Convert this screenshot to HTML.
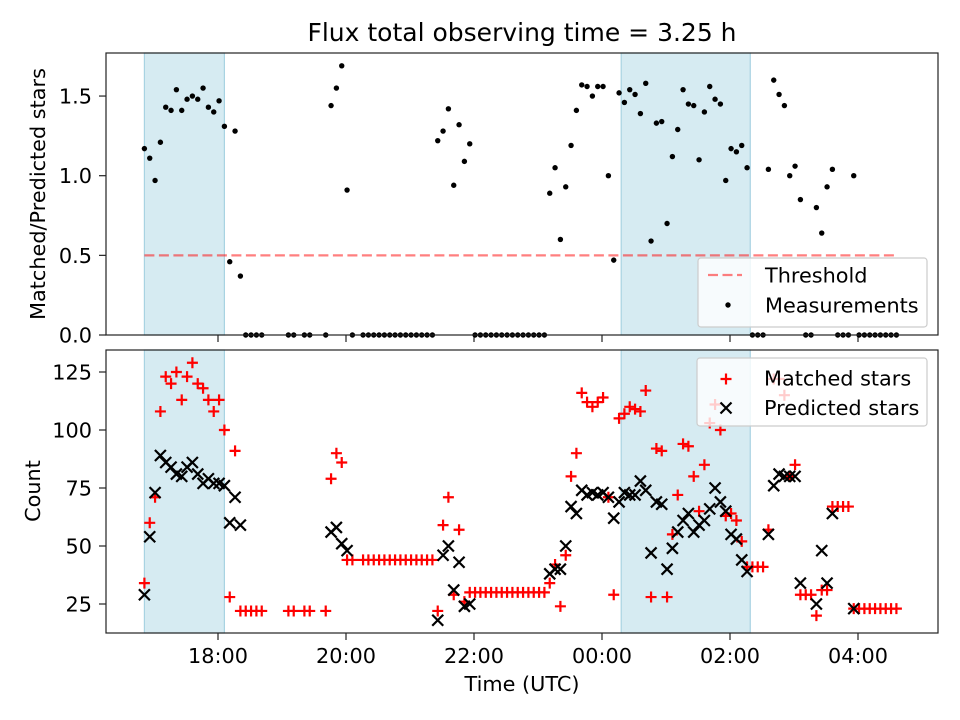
<!DOCTYPE html>
<html><head><meta charset="utf-8"><style>
html,body{margin:0;padding:0;background:#fff;}
svg{display:block;font-family:"DejaVu Sans","Liberation Sans",sans-serif;}
</style></head><body>
<svg id="chart" width="960" height="720" viewBox="0 0 960 720" xmlns="http://www.w3.org/2000/svg">
<rect width="960" height="720" fill="#fff"/>
<text x="522" y="41" font-size="25" text-anchor="middle">Flux total observing time = 3.25 h</text>
<g id="topPanel"></g><g id="botPanel"></g>
<text transform="translate(45,194) rotate(-90)" font-size="20.8" text-anchor="middle">Matched/Predicted stars</text>
<text transform="translate(40,491) rotate(-90)" font-size="20.8" text-anchor="middle">Count</text>
<text x="522" y="691" font-size="20.8" text-anchor="middle">Time (UTC)</text>
</svg>
<script>
// minutes since 00:00 of first day
const times = [1011,1016,1021,1026,1031,1036,1041,1046,1051,1056,1061,1066,1071,1076,1081,1086,1091,1096,1101,
1106,1111,1116,1121,
1146,1151,1161,1166,1181,
1186,1191,1196,1201,1206,
1216,1221,1226,1231,1236,1241,1246,1251,1256,1261,1266,1271,1276,1281,
1286,1291,1296,1301,1306,1311,1316,
1321,1326,1331,1336,1341,1346,1351,1356,1361,1366,1371,1376,1381,1386,
1391,1396,1401,1406,1411,1416,1421,1426,1431,1436,1441,1446,1451,1456,1461,1466,1471,1476,1481,1486,1491,1496,1501,1506,1511,1516,1521,1526,1531,1536,1541,1546,1551,1556,1561,1566,1571,1576,
1581,1586,1591,
1596,1601,1606,1611,1616,1621,1626,
1631,1636,1641,1646,1651,1656,1661,1666,1671,1676,
1681,1686,1691,1696,1701,1706,1711,1716];
const ratio = [1.17,1.11,0.97,1.21,1.43,1.41,1.54,1.41,1.48,1.50,1.48,1.55,1.43,1.40,1.47,1.31,0.46,1.28,0.37,
0,0,0,0,
0,0,0,0,0,
1.44,1.55,1.69,0.91,0,
0,0,0,0,0,0,0,0,0,0,0,0,0,0,
1.22,1.28,1.42,0.94,1.32,1.09,1.20,
0,0,0,0,0,0,0,0,0,0,0,0,0,0,
0.89,1.05,0.60,0.93,1.19,1.41,1.57,1.56,1.50,1.56,1.56,1.00,0.47,1.52,1.46,1.54,1.51,1.39,1.58,0.59,1.33,1.34,0.70,1.12,1.29,1.54,1.45,1.44,1.10,1.40,1.56,1.48,1.45,0.97,1.17,1.15,1.19,1.05,
0,0,0,
1.04,1.60,1.51,1.44,1.00,1.06,0.85,
0,0,0.80,0.64,0.93,1.04,0,0,0,1.00,
0,0,0,0,0,0,0,0];
const matched = [34,60,71,108,123,120,125,113,123,129,120,118,113,108,113,100,28,91,22,
22,22,22,22,
22,22,22,22,22,
79,90,86,44,44,
44,44,44,44,44,44,44,44,44,44,44,44,44,44,
22,59,71,29,57,26,30,
30,30,30,30,30,30,30,30,30,30,30,30,30,30,
34,42,24,46,80,90,116,112,110,112,114,71,29,105,107,110,109,108,117,28,92,91,28,55,72,94,93,80,65,85,103,111,100,63,64,61,52,41,
41,41,41,
57,122,122,115,80,85,29,
29,29,20,31,31,67,67,67,67,23,
23,23,23,23,23,23,23,23];
const predicted = [29,54,73,89,86,84,81,80,84,86,81,77,79,77,77,76,60,71,59,
null,null,null,null,
null,null,null,null,null,
56,58,51,48,null,
null,null,null,null,null,null,null,null,null,null,null,null,null,null,
18,46,50,31,43,24,25,
null,null,null,null,null,null,null,null,null,null,null,null,null,null,
38,40,40,50,67,64,74,72,73,72,73,71,62,69,73,72,72,78,74,47,69,68,40,49,56,61,64,56,59,61,66,75,69,65,55,53,44,39,
null,null,null,
55,76,81,80,80,80,34,
null,null,25,48,34,64,null,null,null,23,
null,null,null,null,null,null,null,null];
const spans = [[1011,1086],[1458,1579]];
const threshold = 0.5;
const thresholdRange = [1011,1716];
const xTickMins = [1080,1200,1320,1440,1560,1680];
const xTickLabels = ["18:00","20:00","22:00","00:00","02:00","04:00"];
const topTicks = [0.0,0.5,1.0,1.5];
const botTicks = [25,50,75,100,125];

const NS="http://www.w3.org/2000/svg";
const L=106,R=938,FS=20.8;
const xs=m=>218+(m-1080)*64/60;
const ysTop=v=>335-v*159.3;
const ysBot=v=>604-(v-25)*2.32;
function mk(tag,attrs,parent){const e=document.createElementNS(NS,tag);for(const k in attrs)e.setAttribute(k,attrs[k]);parent.appendChild(e);return e;}
const gTop=document.getElementById('topPanel'), gBot=document.getElementById('botPanel');

function axes(g,y0,y1,ticks,ys,fmt,labels,prefix){
  spans.forEach((s,i)=>{const r=mk('rect',{x:xs(s[0]),y:y0,width:xs(s[1])-xs(s[0]),height:y1-y0,fill:'#add8e6','fill-opacity':0.5,stroke:'#a8d3e2','stroke-width':1.2},g);
    
    });
  xTickMins.forEach((m,i)=>{const t=mk('line',{x1:xs(m),x2:xs(m),y1:y1,y2:y1+7,stroke:'#222','stroke-width':1.2},g);
    
    
    if(labels){const tx=mk('text',{x:xs(m),y:y1+30,'font-size':FS,'text-anchor':'middle'},g);tx.textContent=xTickLabels[i];
      
      }});
  ticks.forEach(v=>{const y=ys(v);const t=mk('line',{x1:L-7,x2:L,y1:y,y2:y,stroke:'#222','stroke-width':1.2},g);
    
    
    const tx=mk('text',{x:L-14,y:y+7.5,'font-size':FS,'text-anchor':'end'},g);tx.textContent=fmt(v);
    
    });
}
axes(gTop,53,335,topTicks,ysTop,v=>v.toFixed(1),false,'top');
axes(gBot,350,633,botTicks,ysBot,v=>String(v),true,'bottom');

const th=mk('line',{x1:xs(thresholdRange[0]),x2:xs(thresholdRange[1]),y1:ysTop(threshold),y2:ysTop(threshold),stroke:'#ff0000','stroke-opacity':0.5,'stroke-width':2.2,'stroke-dasharray':'10,4.5'},gTop);


times.forEach((t,i)=>{const c=mk('circle',{cx:xs(t),cy:ysTop(ratio[i]),r:2.7,fill:'#000'},gTop);
  
  });
function plus(g,x,y){return mk('path',{d:`M${x-5.5},${y}H${x+5.5}M${x},${y-5.5}V${y+5.5}`,stroke:'#ff0000','stroke-width':2.2,fill:'none'},g);}
function cross(g,x,y){return mk('path',{d:`M${x-5.5},${y-5.5}L${x+5.5},${y+5.5}M${x-5.5},${y+5.5}L${x+5.5},${y-5.5}`,stroke:'#000','stroke-width':2.2,fill:'none'},g);}
times.forEach((t,i)=>{const p=plus(gBot,xs(t),ysBot(matched[i]));
  
  });
times.forEach((t,i)=>{if(predicted[i]===null)return;const p=cross(gBot,xs(t),ysBot(predicted[i]));
  
  });

[[gTop,53,335],[gBot,350,633]].forEach(([g,a,b],i)=>{const f=mk('rect',{x:L,y:a,width:R-L,height:b-a,fill:'none',stroke:'#222','stroke-width':1.2},g);
  
  });

const lg1=mk('g',{},gTop);


mk('rect',{x:698,y:258,width:229,height:69,rx:3,fill:'#fff','fill-opacity':0.8,stroke:'#ccc','stroke-width':1.2},lg1);
mk('line',{x1:708,x2:742,y1:275,y2:275,stroke:'#ff0000','stroke-opacity':0.5,'stroke-width':2.2,'stroke-dasharray':'10,4.5'},lg1);
let t1=mk('text',{x:765,y:282.5,'font-size':FS},lg1);t1.textContent='Threshold';
mk('circle',{cx:728,cy:305,r:2.7,fill:'#000'},lg1);
let t2=mk('text',{x:765,y:312.5,'font-size':FS},lg1);t2.textContent='Measurements';
const lg2=mk('g',{},gBot);


mk('rect',{x:697,y:358,width:230,height:68,rx:3,fill:'#fff','fill-opacity':0.8,stroke:'#ccc','stroke-width':1.2},lg2);
plus(lg2,726,379);
let t3=mk('text',{x:764,y:385.5,'font-size':FS},lg2);t3.textContent='Matched stars';
cross(lg2,726,408);
let t4=mk('text',{x:764,y:415,'font-size':FS},lg2);t4.textContent='Predicted stars';
</script>
</body></html>
